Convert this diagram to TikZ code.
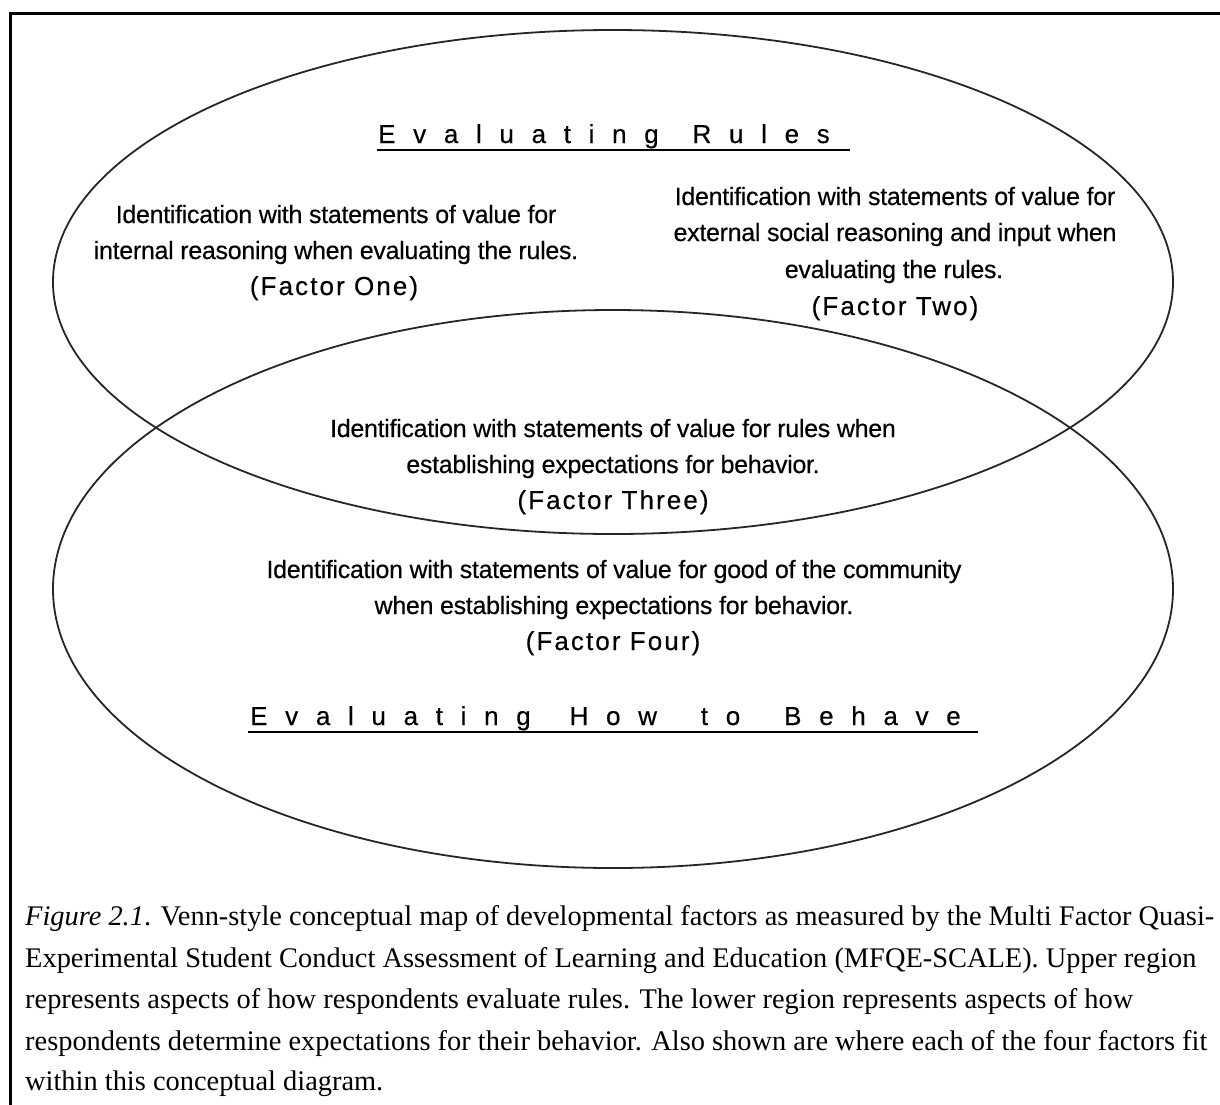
\documentclass[tikz,border=0pt]{standalone}
\usepackage{fontspec}
\setmainfont{Liberation Serif}
\newfontfamily\bodyfont[FakeBold=0.4,LetterSpace=-1.2]{Liberation Sans}
\newfontfamily\factorfont[FakeBold=0.4,LetterSpace=8]{Liberation Sans}
\newfontfamily\titlefont[FakeBold=0.4,LetterSpace=68]{Liberation Sans}
\tikzset{
  body/.style={font=\bodyfont\fontsize{25}{30}\selectfont, inner sep=0pt, anchor=base},
  factor/.style={font=\factorfont\fontsize{26}{30}\selectfont, inner sep=0pt, anchor=base},
  heading/.style={font=\titlefont\fontsize{26}{30}\selectfont, inner sep=0pt, anchor=base west},
  captext/.style={font=\fontsize{28.4}{34}\selectfont, inner sep=0pt, anchor=base west},
  venn/.style={draw=black!85, line width=1.8pt},
  ruleline/.style={line width=2pt},
}
\begin{document}
\begin{tikzpicture}[x=1pt,y=-1pt]
\useasboundingbox (0,0) rectangle (1220,1104);
% frame
\draw[line width=3pt] (10,1110) -- (10,13) -- (1225,13);
% ellipses
\draw[venn] (613,282) ellipse [x radius=560pt, y radius=252pt];
\draw[venn] (613,589) ellipse [x radius=560pt, y radius=279pt];
% titles
\node[heading] (t1) at (378,143) {Evaluating\hspace{9pt} Rules};
\coordinate (t1a) at (377,150);
\coordinate (t1b) at (850,150);
\draw[ruleline] (t1a) -- (t1b);
\node[heading] (t2) at (250,725) {Evaluating\hspace{14pt} How\hspace{19pt} to\hspace{19pt} Behave};
\coordinate (t2a) at (248,732);
\coordinate (t2b) at (978,732);
\draw[ruleline] (t2a) -- (t2b);
% factor one
\node[body] (f1a) at (336,223) {Identification with statements of value for};
\node[body] (f1b) at (336,259) {internal reasoning when evaluating the rules.};
\node[factor] (f1c) at (334,295) {(Factor One)};
% factor two
\node[body] (f2a) at (895,205) {Identification with statements of value for};
\node[body] (f2b) at (895,241) {external social reasoning and input when};
\node[body] (f2c) at (894,278) {evaluating the rules.};
\node[factor] (f2d) at (895,315) {(Factor Two)};
% factor three
\node[body] (f3a) at (613,437) {Identification with statements of value for rules when};
\node[body] (f3b) at (613,473) {establishing expectations for behavior.};
\node[factor] (f3c) at (613,509) {(Factor Three)};
% factor four
\node[body] (f4a) at (614,578) {Identification with statements of value for good of the community};
\node[body] (f4b) at (614,614) {when establishing expectations for behavior.};
\node[factor] (f4c) at (613,650) {(Factor Four)};
% caption
\node[captext] (c1) at (25,925) {\textit{Figure 2.1}. Venn-style conceptual map of developmental factors as measured by the Multi Factor Quasi-};
\node[captext] (c2) at (25,967) {Experimental Student Conduct Assessment of Learning and Education (MFQE-SCALE). Upper region};
\node[captext] (c3) at (25,1008) {represents aspects of how respondents evaluate rules. The lower region represents aspects of how};
\node[captext] (c4) at (25,1050) {respondents determine expectations for their behavior. Also shown are where each of the four factors fit};
\node[captext] (c5) at (25,1090) {within this conceptual diagram.};
\end{tikzpicture}
\end{document}
